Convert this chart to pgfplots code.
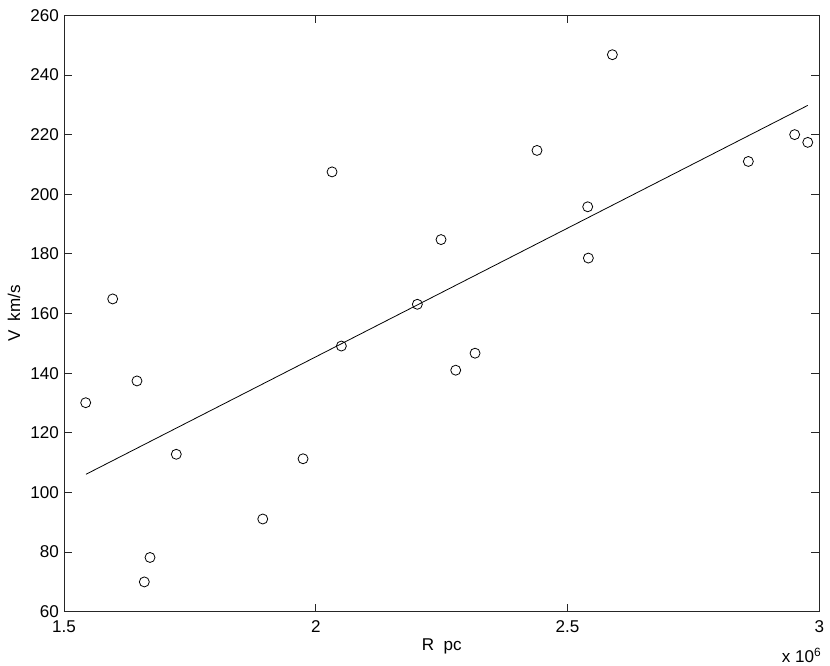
\documentclass[border=0pt]{standalone}
\usepackage{fontspec}
\setmainfont{Liberation Sans}
\usepackage{pgfplots}
\pgfplotsset{compat=1.18}
\begin{document}
\begin{tikzpicture}[x=1pt,y=1pt]
\path (-48,-40) rectangle (574.5,458.8);
\begin{axis}[
  at={(0,0)}, anchor=south west,
  scale only axis, width=566.5pt, height=447.3pt,
  xmin=1.5, xmax=3, ymin=60, ymax=260,
  xtick={1.5,2,2.5,3}, xticklabels={1.5,2,2.5,3},
  ytick={60,80,100,120,140,160,180,200,220,240,260},
  scaled x ticks=false,
  tick align=inside, tick pos=both, major tick length=6pt,
  axis line style={line width=0.6pt, black!85},
  tick style={line width=0.6pt, black!85},
  /pgf/number format/assume math mode=true,
  ticklabel style={font=\fontsize{12.8}{14}\selectfont},
  xticklabel style={inner sep=0pt, anchor=north, yshift=-6.2pt},
  yticklabel style={inner sep=0pt, anchor=east, xshift=-3.7pt},
  xlabel={R\ \ pc}, ylabel={V\ \ km/s},
  label style={font=\fontsize{12.8}{14}\selectfont},
  xlabel style={at={(axis description cs:0.5,0)}, anchor=base, yshift=-28.7pt, inner sep=0pt},
  ylabel style={at={(axis description cs:0,0.5)}, anchor=center, yshift=37.5pt, inner sep=0pt},
  clip=false,
]
\addplot[only marks, mark=o, mark size=3.75pt, mark options={line width=0.6pt, black}] coordinates {
  (1.5431,130.1) (1.5967,164.9) (1.6449,137.4) (1.6595,70.0) (1.6708,78.2)
  (1.7230,112.8) (1.8947,91.1) (1.9747,111.3) (2.0323,207.5) (2.0508,149.1)
  (2.2017,163.1) (2.2487,184.8) (2.2779,141.0) (2.3163,146.7) (2.4393,214.7)
  (2.5400,195.8) (2.5413,178.6) (2.5890,246.8) (2.8590,211.0) (2.9510,220.0)
  (2.9770,217.4)
};
\addplot[black, line width=0.6pt] coordinates {(1.5437,106.1) (2.977,229.8)};
\end{axis}
\node[anchor=base east, inner sep=0pt, font=\fontsize{12.8}{14}\selectfont] at (568.3,-37.7) {x 10\textsuperscript{6}};
\end{tikzpicture}
\end{document}
